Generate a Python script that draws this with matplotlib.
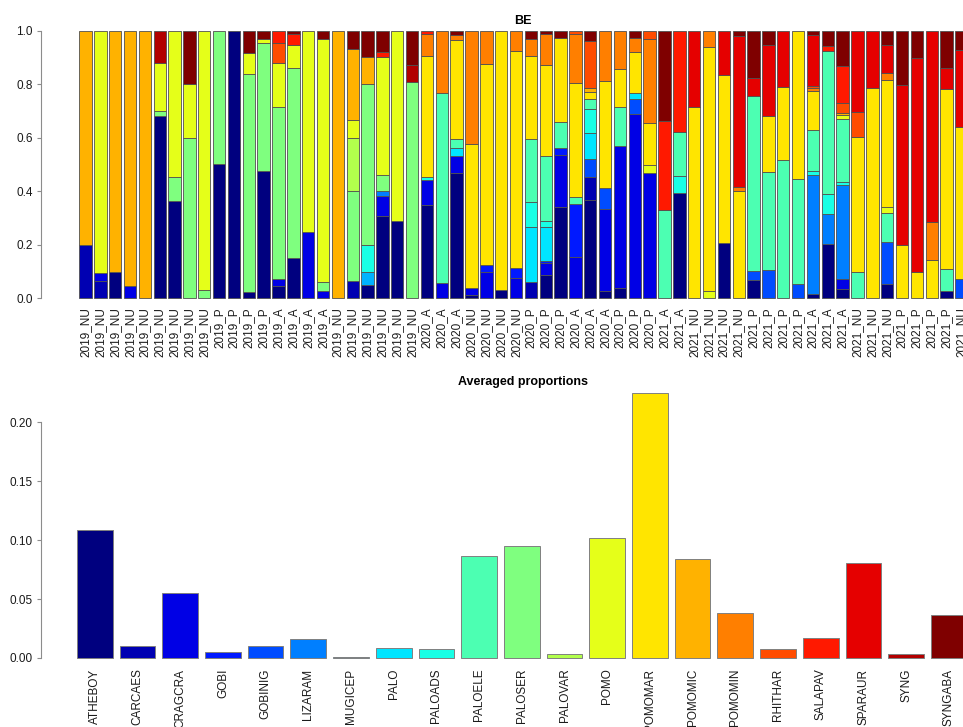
import matplotlib
matplotlib.use('Agg')
import matplotlib.pyplot as plt
import numpy as np

plt.rcParams['font.family'] = ['Liberation Sans', 'DejaVu Sans']

species = ['ATHEBOY', 'CARCAES', 'CRAGCRA', 'GOBI', 'GOBINIG', 'LIZARAM',
           'MUGICEP', 'PALO', 'PALOADS', 'PALOELE', 'PALOSER', 'PALOVAR',
           'POMO', 'POMOMAR', 'POMOMIC', 'POMOMIN', 'RHITHAR', 'SALAPAV',
           'SPARAUR', 'SYNG', 'SYNGABA']

# jet-like ramp, one colour per species
species_colors = ['#00007F', '#0000B2', '#0000E5', '#0019FF', '#004CFF',
                  '#007FFF', '#00B2FF', '#00E5FF', '#19FFE5', '#4CFFB2',
                  '#7FFF7F', '#B2FF4C', '#E5FF19', '#FFE500', '#FFB200',
                  '#FF7F00', '#FF4C00', '#FF1900', '#E50000', '#B20000',
                  '#7F0000']

mean_props = [0.1085, 0.0105, 0.0554, 0.0054, 0.0099, 0.0158, 0.0008,
              0.0082, 0.0079, 0.0862, 0.0952, 0.0031, 0.1020, 0.2249,
              0.0836, 0.0379, 0.0076, 0.0167, 0.0808, 0.0031, 0.0364]

sample_labels = (['2019_NU'] * 9 + ['2019_P'] * 4 + ['2019_A'] * 4 +
                 ['2019_NU'] * 6 + ['2020_A'] * 3 + ['2020_NU'] * 4 +
                 ['2020_P'] * 3 + ['2020_A'] * 3 + ['2020_P'] * 3 +
                 ['2021_A'] * 2 + ['2021_NU'] * 4 + ['2021_P'] * 4 +
                 ['2021_A'] * 3 + ['2021_NU'] * 3 + ['2021_P'] * 4 +
                 ['2021_NU'])

# species composition of each BE sample (only non-zero shares)
sample_props = [
    dict(CARCAES=.20, POMOMIC=.80),
    dict(CARCAES=.065, CRAGCRA=.029, POMO=.906),
    dict(ATHEBOY=.10, POMOMIC=.90),
    dict(CRAGCRA=.047, POMOMIC=.953),
    dict(POMOMIC=1.0),
    dict(ATHEBOY=.683, PALOSER=.019, POMO=.180, SYNG=.118),
    dict(ATHEBOY=.364, PALOSER=.091, POMO=.545),
    dict(PALOSER=.601, POMO=.199, SYNGABA=.200),
    dict(PALOSER=.031, POMO=.969),
    dict(ATHEBOY=.501, PALOSER=.499),
    dict(ATHEBOY=1.0),
    dict(ATHEBOY=.025, PALOSER=.813, POMO=.078, SYNGABA=.084),
    dict(ATHEBOY=.476, PALOSER=.478, POMO=.015, SYNGABA=.031),
    dict(ATHEBOY=.047, CRAGCRA=.025, PALOSER=.642, POMO=.168, RHITHAR=.072, SALAPAV=.046),
    dict(ATHEBOY=.152, PALOSER=.708, POMO=.088, SALAPAV=.041, SYNGABA=.011),
    dict(CRAGCRA=.249, POMO=.751),
    dict(CRAGCRA=.029, PALOSER=.031, POMO=.910, SYNGABA=.030),
    dict(POMOMIC=1.0),
    dict(CARCAES=.066, PALOSER=.335, PALOVAR=.198, POMO=.068, POMOMIC=.266, SYNGABA=.067),
    dict(ATHEBOY=.05, MUGICEP=.05, PALOADS=.10, PALOSER=.60, POMOMIC=.101, SYNGABA=.099),
    dict(ATHEBOY=.309, CRAGCRA=.075, LIZARAM=.019, PALOSER=.058, POMO=.443, SALAPAV=.019, SYNGABA=.077),
    dict(ATHEBOY=.289, POMO=.711),
    dict(PALOSER=.81, SYNG=.063, SYNGABA=.127),
    dict(ATHEBOY=.349, CRAGCRA=.094, PALOADS=.009, POMOMAR=.456, POMOMIN=.081, SALAPAV=.011),
    dict(CRAGCRA=.059, PALOELE=.708, POMOMIN=.233),
    dict(ATHEBOY=.47, CRAGCRA=.062, PALO=.032, PALOELE=.031, POMOMAR=.371, POMOMIN=.019, SYNGABA=.015),
    dict(ATHEBOY=.012, CRAGCRA=.028, POMOMAR=.537, POMOMIN=.423),
    dict(CRAGCRA=.10, GOBI=.025, POMOMAR=.75, POMOMIN=.125),
    dict(ATHEBOY=.031, POMOMAR=.969),
    dict(CRAGCRA=.075, GOBI=.037, POMOMAR=.814, POMOMIN=.074),
    dict(CARCAES=.062, PALO=.206, PALOADS=.094, PALOELE=.233, POMOMAR=.313, POMOMIN=.062, SYNGABA=.03),
    dict(ATHEBOY=.087, CRAGCRA=.044, GOBI=.009, PALO=.128, PALOADS=.021, PALOELE=.243,
         POMOMAR=.341, POMOMIN=.116, SYNGABA=.011),
    dict(ATHEBOY=.343, CRAGCRA=.193, GOBI=.025, PALOELE=.097, POMOMAR=.317, SYNGABA=.025),
    dict(CRAGCRA=.156, GOBI=.197, PALOELE=.027, POMOMAR=.424, POMOMIN=.185, RHITHAR=.011),
    dict(ATHEBOY=.368, CARCAES=.087, GOBINIG=.065, PALO=.10, PALOADS=.09, PALOELE=.037,
         POMOMAR=.025, POMOMIC=.013, RHITHAR=.177, SYNGABA=.038),
    dict(ATHEBOY=.027, CRAGCRA=.307, GOBINIG=.077, POMOMAR=.401, POMOMIN=.188),
    dict(ATHEBOY=.037, CRAGCRA=.533, PALOELE=.144, POMOMAR=.142, POMOMIN=.144),
    dict(CRAGCRA=.691, GOBINIG=.054, PALO=.023, POMOMAR=.153, POMOMIN=.052, SYNGABA=.027),
    dict(CRAGCRA=.467, POMO=.033, POMOMAR=.154, POMOMIN=.315, RHITHAR=.031),
    dict(PALOELE=.332, SALAPAV=.332, SYNGABA=.336),
    dict(ATHEBOY=.395, PALOADS=.063, PALOELE=.165, SALAPAV=.377),
    dict(POMOMAR=.714, SPARAUR=.286),
    dict(POMO=.029, POMOMAR=.911, POMOMIN=.06),
    dict(ATHEBOY=.208, POMOMAR=.628, SPARAUR=.164),
    dict(POMOMAR=.401, POMOMIN=.016, SPARAUR=.564, SYNGABA=.019),
    dict(ATHEBOY=.068, GOBINIG=.035, PALOELE=.653, SPARAUR=.07, SYNGABA=.174),
    dict(GOBINIG=.106, PALOELE=.367, POMOMAR=.209, SPARAUR=.265, SYNGABA=.053),
    dict(PALOELE=.517, POMOMAR=.274, SPARAUR=.209),
    dict(GOBINIG=.055, PALOELE=.39, POMOMAR=.555),
    dict(ATHEBOY=.015, LIZARAM=.448, PALOADS=.014, PALOELE=.152, POMOMAR=.147, POMOMIN=.009,
         RHITHAR=.008, SPARAUR=.191, SYNGABA=.016),
    dict(ATHEBOY=.203, LIZARAM=.112, PALOADS=.075, PALOELE=.535, SALAPAV=.019, SYNGABA=.056),
    dict(ATHEBOY=.036, CRAGCRA=.035, LIZARAM=.352, PALOADS=.013, PALOELE=.233, POMO=.016,
         POMOMIC=.008, RHITHAR=.036, SALAPAV=.14, SYNGABA=.131),
    dict(PALOELE=.10, POMOMAR=.502, RHITHAR=.096, SPARAUR=.302),
    dict(POMOMAR=.785, SPARAUR=.215),
    dict(ATHEBOY=.052, GOBINIG=.157, PALOELE=.109, POMO=.022, POMOMAR=.476, POMOMIN=.025,
         SPARAUR=.106, SYNGABA=.053),
    dict(POMOMAR=.199, SPARAUR=.598, SYNGABA=.203),
    dict(POMOMAR=.10, SPARAUR=.799, SYNGABA=.101),
    dict(POMOMAR=.143, POMOMIN=.143, SPARAUR=.714),
    dict(ATHEBOY=.027, PALOELE=.081, POMOMAR=.674, SPARAUR=.08, SYNGABA=.138),
    dict(GOBINIG=.071, POMOMAR=.57, SPARAUR=.287, SYNGABA=.072),
]

W, H = 963, 727
fig = plt.figure(figsize=(W / 100, H / 100), dpi=100, facecolor='white')

axis_grey = '#8c8c8c'
text_col = '#1a1a1a'
fs = 8.5


def style_axes(ax, ymax, fmt):
    for side in ['top', 'right', 'bottom']:
        ax.spines[side].set_visible(False)
    ax.spines['left'].set_color(axis_grey)
    ax.spines['left'].set_linewidth(0.8)
    ax.spines['left'].set_bounds(0, ymax)
    ax.tick_params(axis='y', length=3, width=0.8, color=axis_grey,
                   pad=3, labelsize=fs, labelcolor=text_col)
    ax.tick_params(axis='x', length=0, labelsize=fs, labelcolor=text_col)
    ax.yaxis.set_major_formatter(plt.FormatStrFormatter(fmt))


# --- stacked composition per sample ---
ax1 = fig.add_axes([41 / W, 1 - 309 / H, 1.0, (309 - 20.3) / H])
x = np.arange(len(sample_props))
bottom = np.zeros(len(sample_props))
for sp, col in zip(species, species_colors):
    h = np.array([p.get(sp, 0.0) for p in sample_props])
    m = h > 0
    ax1.bar(x[m], h[m], bottom=bottom[m], width=0.833, color=col,
            edgecolor='#505050', linewidth=0.6)
    bottom += h
ax1.set_xlim(-3.0, -3.0 + W / 14.845)
ax1.set_ylim(-0.04, 1.04)
ax1.set_yticks([0, 0.2, 0.4, 0.6, 0.8, 1.0])
ax1.set_xticks(x)
ax1.set_xticklabels(sample_labels, rotation=90, va='top')
style_axes(ax1, 1.0, '%.1f')
ax1.tick_params(axis='x', pad=-1)
fig.text(522.5 / W, 1 - 20.5 / H, 'BE', ha='center', va='center',
         fontsize=fs + 0.5, fontweight='bold', color='black')

# --- averaged proportions ---
ax2 = fig.add_axes([41 / W, 1 - 668.6 / H, 1.0, (668.6 - 382) / H])
xs = np.arange(len(species))
ax2.bar(xs, mean_props, width=0.834, color=species_colors,
        edgecolor='#808080', linewidth=0.7)
ax2.set_xlim(-1.26, -1.26 + W / 42.7)
ax2.set_ylim(-0.009, 0.234)
ax2.set_yticks([0, 0.05, 0.10, 0.15, 0.20])
ax2.set_xticks(xs)
ax2.set_xticklabels(species, rotation=90, va='top')
style_axes(ax2, 0.2, '%.2f')
ax2.tick_params(axis='x', pad=0)
fig.text(522.5 / W, 1 - 382 / H, 'Averaged proportions', ha='center',
         va='center', fontsize=fs + 0.5, fontweight='bold', color='black')

fig.savefig('out.png', dpi=100, facecolor='white')
